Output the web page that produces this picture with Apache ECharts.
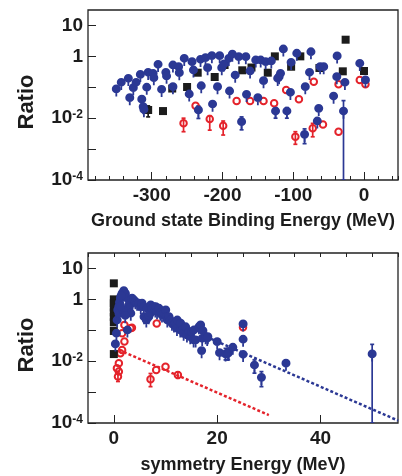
<!DOCTYPE html>
<html><head><meta charset="utf-8">
<script src="https://cdn.jsdelivr.net/npm/echarts@6/dist/echarts.min.js"></script>
<style>html,body{margin:0;padding:0;background:#fff}#c{width:402px;height:476px}</style>
</head><body><div id="c"></div>
<script>
// ---------- Top panel: Ground state Binding Energy ----------
const topBlueX = [-350,-343,-333,-331,-326,-322,-316,-314,-312,-311,-307,-305,-298,-297,-291,-286,-280,-279,-270,-270,-262,-261,-254,-247,-243,-241,-234,-231,-230,-224,-221,-215,-214,-207,-204,-201,-198,-191,-190,-186,-182,-177,-173,-167,-166,-161,-153,-150,-146,-142,-139,-131,-125,-122,-120,-118,-114,-109,-104,-103,-95,-84,-83,-77,-75,-66,-64,-62,-57,-43,-38,-38.5,-27,-29,-6,2];
const topBlueY = [0.088,0.145,0.195,0.046,0.097,0.145,0.26,0.041,0.0235,0.019,0.10,0.305,0.283,0.204,0.553,0.086,0.305,0.231,0.525,0.104,0.462,0.296,0.865,0.0605,0.671,0.362,0.0184,0.803,0.112,0.904,0.43,1.05,0.0287,0.104,1.05,0.43,0.566,0.865,0.0757,1.19,0.249,0.975,0.0077,0.975,0.059,0.336,0.762,0.046,0.762,0.163,0.671,0.707,0.017,0.195,0.22,0.283,1.73,0.017,0.0687,0.642,1.26,0.003,0.104,0.305,1.41,0.0081,0.0208,0.462,0.462,0.052,1.03,0.22,0.145,0.017,0.596,0.172];
const topRedX = [-255,-238,-218,-199,-180,-161,-142,-127,-110,-92,-97,-71,-72.5,-58,-36,-36,-6,2];
const topRedY = [0.0068,0.0253,0.0094,0.0057,0.0359,0.0359,0.0359,0.0303,0.0815,0.0407,0.0025,0.151,0.0047,0.0063,0.125,0.00365,0.172,0.125];
const topBlackX = [-305,-284,-271,-250,-235,-211,-197,-172,-159,-136,-126,-103,-90,-63,-30,-26,0];
const topBlackY = [0.0184,0.017,0.091,0.102,0.296,0.215,0.525,0.354,0.436,0.296,1.0,0.462,1.0,0.42,0.328,3.46,0.336];
const topErrBlueX = [-234,-173,-125,-109,-84,-29];
const topErrBlueLo = [0.0098,0.0042,0.010,0.010,0.0015,0.0001];
const topErrBlueHi = [0.025,0.011,0.022,0.022,0.0045,0.037];
const topErrRedX = [-255,-218,-199,-97,-72.5];
const topErrRedLo = [0.00365,0.0041,0.00285,0.00143,0.0025];
const topErrRedHi = [0.010,0.012,0.0081,0.00365,0.0068];
const topErrBlackX = [-305];
const topErrBlackLo = [0.011];
const topErrBlackHi = [0.025];

// ---------- Bottom panel: symmetry Energy ----------
const botBlueX = [0.3,0.5,0.64,0.77,0.97,1.27,1.6,1.93,2.24,2.57,2.63,2.9,2.95,3.28,3.53,3.86,4.17,4.5,4.83,5.21,5.46,5.79,5.85,6.29,6.43,6.76,6.81,7.07,7.14,7.39,7.72,8.03,8.11,8.36,8.75,9.0,9.32,9.65,10.04,10.29,10.35,10.68,10.93,11.25,11.64,11.89,12.22,12.28,12.86,12.93,13.24,13.51,13.9,14.15,14.54,14.79,15.06,15.44,15.5,15.83,16.47,16.8,16.99,17.1,17.24,17.76,18.07,18.2,20.0,20.46,21.62,22.12,22.26,23.03,25.02,25.02,25.02,27.22,28.57,33.32,50.0,1.0,1.1,1.4,1.8,2.2,1.3];
const botBlueY = [0.036,0.08,0.215,0.454,0.58,1.09,1.57,1.91,1.57,1.09,0.102,0.66,0.515,0.355,1.09,0.96,0.84,0.75,0.75,0.58,0.75,0.58,0.275,0.215,0.515,0.275,0.313,0.355,0.66,0.515,0.58,0.454,0.58,0.4,0.515,0.355,0.313,0.355,0.454,0.275,0.215,0.275,0.215,0.169,0.149,0.169,0.116,0.215,0.102,0.169,0.102,0.08,0.13,0.0705,0.09,0.062,0.09,0.0485,0.102,0.0485,0.13,0.149,0.0219,0.055,0.097,0.062,0.055,0.062,0.0428,0.0188,0.0171,0.018,0.0203,0.0282,0.16,0.0512,0.0167,0.0075,0.003,0.0086,0.0171,0.35,0.8,1.3,0.45,0.3,0.6];
const botRedX = [0.6,0.8,0.97,0.97,1.27,1.6,1.6,2.05,2.05,3.2,3.5,7.1,8.2,8.3,10.0,12.4,25];
const botRedY = [0.0059,0.0032,0.0046,0.0086,0.018,0.023,0.08,0.043,0.149,0.116,0.121,0.0026,0.0052,0.165,0.0066,0.0036,0.125];
const botBlackX = [0,0,0,0,0,0,0,0,0];
const botBlackY = [3.3,1.0,0.75,0.55,0.38,0.27,0.18,0.095,0.017];
const botErrBlueX = [21.62,22.12,27.22,28.57,50];
const botErrBlueLo = [0.011,0.011,0.0041,0.0015,0.0001];
const botErrBlueHi = [0.026,0.026,0.011,0.0046,0.035];
const botErrRedX = [7.1,0.8,12.4];
const botErrRedLo = [0.0015,0.0022,0.0028];
const botErrRedHi = [0.004,0.0045,0.0045];
const blueFitX = [17,55];
const blueFitY = [0.0713,0.00012];
const redFitX = [1,30];
const redFitY = [0.023,0.000181];

const yTickLabels = {1:'10', 0:'1', '-2':'10{s|-2}', '-4':'10{s|-4}'};
const topXName = 'Ground state Binding Energy (MeV)';
const botXName = 'symmetry Energy (MeV)';
const yName = 'Ratio';

const BLUE = '#2b3894', RED = '#e4232b', BLACK = '#1c1c1c', AX = '#222';
const FONT = '"Liberation Sans", Arial, sans-serif';
const PIN = 'path://M0,4A4,4 0 1 1 8,4A4,4 0 1 1 0,4Z M3.2,7.2L4.8,7.2L4.8,11L3.2,11Z';

const zip = (xs, ys) => xs.map((x, i) => [x, ys[i]]);
const zip3 = (xs, a, b) => xs.map((x, i) => [x, a[i], b[i]]);

function errSeries(xi, yi, data, color) {
  return {
    type: 'custom', xAxisIndex: xi, yAxisIndex: yi, clip: true, z: 2,
    data: data,
    renderItem: (params, api) => {
      const x = api.value(0);
      const p1 = api.coord([x, api.value(1)]);
      const p2 = api.coord([x, api.value(2)]);
      const st = {stroke: color, lineWidth: 1.7};
      return {type: 'group', children: [
        {type: 'line', shape: {x1: p1[0], y1: p1[1], x2: p2[0], y2: p2[1]}, style: st},
        {type: 'line', shape: {x1: p1[0]-2, y1: p1[1], x2: p1[0]+2, y2: p1[1]}, style: st},
        {type: 'line', shape: {x1: p2[0]-2, y1: p2[1], x2: p2[0]+2, y2: p2[1]}, style: st}
      ]};
    }
  };
}
function redS(xi, yi, data) {
  return {type: 'scatter', xAxisIndex: xi, yAxisIndex: yi, data, symbol: 'circle', symbolSize: 6.5, z: 3,
    itemStyle: {color: 'rgba(255,255,255,0)', borderColor: RED, borderWidth: 2, opacity: 1}};
}
function blackS(xi, yi, data) {
  return {type: 'scatter', xAxisIndex: xi, yAxisIndex: yi, data, symbol: 'rect', symbolSize: 8, z: 4,
    itemStyle: {color: BLACK, opacity: 1}};
}
function blueS(xi, yi, data) {
  return {type: 'scatter', xAxisIndex: xi, yAxisIndex: yi, data, symbol: PIN, symbolSize: [9, 12],
    symbolOffset: [0, 1.6], z: 5, itemStyle: {color: BLUE, opacity: 1}};
}
function fitS(xs, ys, color) {
  return {type: 'line', xAxisIndex: 1, yAxisIndex: 1, data: zip(xs, ys), showSymbol: false, symbol: 'none', z: 2,
    lineStyle: {color, width: 2.5, type: [3, 2.2]}};
}

const yAxisBase = (gi) => ({
  type: 'log', gridIndex: gi, logBase: 10, min: 1e-4, max: Math.pow(10, 1.5), splitNumber: 5,
  axisLine: {show: false, onZero: false}, splitLine: {show: false},
  axisTick: {inside: true, length: 8, lineStyle: {color: AX, width: 1}},
  axisLabel: {
    showMaxLabel: false, margin: 5, color: BLACK, fontSize: 19, fontWeight: 'bold', fontFamily: FONT,
    formatter: v => { const e = Math.round(Math.log10(v)); return yTickLabels[e] || ''; },
    rich: {s: {fontSize: 12, fontWeight: 'bold', fontFamily: FONT, color: BLACK, verticalAlign: 'top', lineHeight: 12}}
  }
});
const majorX = (gi, min, max, split, name, gap) => ({
  type: 'value', gridIndex: gi, min, max, splitNumber: split,
  name, nameLocation: 'middle', nameGap: gap,
  nameTextStyle: {color: BLACK, fontSize: 18, fontWeight: 'bold', fontFamily: FONT},
  axisLine: {show: false, onZero: false}, splitLine: {show: false},
  axisTick: {inside: true, length: 8, lineStyle: {color: AX, width: 1}},
  axisLabel: {showMinLabel: false, showMaxLabel: false, margin: 6, color: BLACK, fontSize: 19, fontWeight: 'bold', fontFamily: FONT}
});
const minorX = (gi, min, max, interval) => ({
  type: 'value', gridIndex: gi, min, max, interval,
  axisLine: {show: false, onZero: false}, splitLine: {show: false}, axisLabel: {show: false},
  axisTick: {inside: true, length: 4, lineStyle: {color: AX, width: 1}}
});

const option = {
  animation: false,
  backgroundColor: '#fff',
  grid: [
    {left: 88, top: 10, width: 310, height: 170, show: true, borderColor: AX, borderWidth: 1.3, backgroundColor: 'transparent', containLabel: false},
    {left: 88, top: 253, width: 310, height: 170, show: true, borderColor: AX, borderWidth: 1.3, backgroundColor: 'transparent', containLabel: false},
    {left: 88 + 10 * 310 / 438, top: 10, width: 310 - 10 * 310 / 438, height: 170, show: false, containLabel: false}
  ],
  xAxis: [
    majorX(0, -390, 48, 5, topXName, 32),
    majorX(1, -5, 55, 3, botXName, 33),
    minorX(2, -380, 48, 20),
    minorX(1, -5, 55, 5)
  ],
  yAxis: [
    yAxisBase(0),
    yAxisBase(1),
    {type: 'value', gridIndex: 2, show: false, min: 0, max: 1, axisLine: {onZero: false}}
  ],
  graphic: [
    {type: 'text', x: 27, y: 102, rotation: Math.PI / 2,
     style: {text: yName, font: 'bold 22px ' + FONT, fill: BLACK, textAlign: 'center', textVerticalAlign: 'middle'}},
    {type: 'text', x: 27, y: 345, rotation: Math.PI / 2,
     style: {text: yName, font: 'bold 22px ' + FONT, fill: BLACK, textAlign: 'center', textVerticalAlign: 'middle'}}
  ],
  series: [
    errSeries(0, 0, zip3(topErrRedX, topErrRedLo, topErrRedHi), RED),
    errSeries(0, 0, zip3(topErrBlackX, topErrBlackLo, topErrBlackHi), BLACK),
    errSeries(0, 0, zip3(topErrBlueX, topErrBlueLo, topErrBlueHi), BLUE),
    redS(0, 0, zip(topRedX, topRedY)),
    blackS(0, 0, zip(topBlackX, topBlackY)),
    blueS(0, 0, zip(topBlueX, topBlueY)),
    fitS(redFitX, redFitY, RED),
    fitS(blueFitX, blueFitY, BLUE),
    errSeries(1, 1, zip3(botErrRedX, botErrRedLo, botErrRedHi), RED),
    errSeries(1, 1, zip3(botErrBlueX, botErrBlueLo, botErrBlueHi), BLUE),
    redS(1, 1, zip(botRedX, botRedY)),
    blackS(1, 1, zip(botBlackX, botBlackY)),
    blueS(1, 1, zip(botBlueX, botBlueY))
  ]
};
const chart = echarts.init(document.getElementById('c'), null, {renderer: 'canvas'});
chart.setOption(option);
</script></body></html>
